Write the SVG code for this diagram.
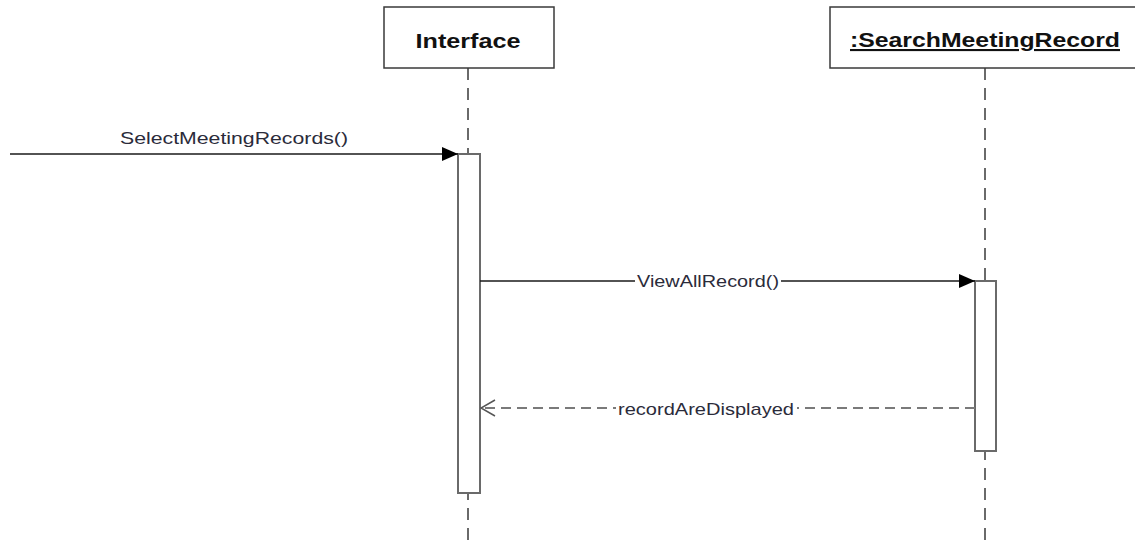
<svg xmlns="http://www.w3.org/2000/svg" width="1135" height="548" viewBox="0 0 1135 548">
  <style>
    .head { fill: #ffffff; stroke: #3a3a3a; stroke-width: 1.5; }
    .headtxt { font-family: "Liberation Sans", Arial, sans-serif; font-weight: bold; font-size: 21px; fill: #111111; }
    .life { stroke: #6a6a6a; stroke-width: 2; stroke-dasharray: 12 8; fill: none; }
    .act { fill: #ffffff; stroke: #6a6a6a; stroke-width: 2; }
    .msg { stroke: #1a1a1a; stroke-width: 1.5; fill: none; }
    .ret { stroke: #7a7a7a; stroke-width: 2; stroke-dasharray: 10 6; fill: none; }
    .lbl { font-family: "Liberation Sans", Arial, sans-serif; font-size: 17px; fill: #2b2b3a; }
    .bg { fill: #ffffff; }
  </style>
  <defs>
    <marker id="filled" viewBox="0 0 16 14" refX="16" refY="7" markerWidth="16" markerHeight="14" markerUnits="userSpaceOnUse" orient="auto">
      <path d="M0,0 L16,7 L0,14 Z" fill="#000000"/>
    </marker>
    <!-- open arrowhead: tip at the far end of the path direction -->
    <marker id="open" viewBox="0 0 16 18" refX="15" refY="9" markerWidth="16" markerHeight="18" markerUnits="userSpaceOnUse" orient="auto">
      <path d="M1,1 L15,9 L1,17" fill="none" stroke="#555555" stroke-width="1.5"/>
    </marker>
  </defs>

  <rect width="1135" height="548" fill="#ffffff"/>

  <!-- lifelines -->
  <g id="lifelines">
    <line class="life" x1="468" y1="68" x2="468" y2="548"/>
    <line class="life" x1="985" y1="68" x2="985" y2="548"/>
  </g>

  <g id="interface">
    <rect class="head" x="384" y="7" width="170" height="61"/>
    <text class="headtxt" x="468" y="48" text-anchor="middle" textLength="105" lengthAdjust="spacingAndGlyphs">Interface</text>
    <rect class="act" x="458" y="154" width="22" height="339"/>
  </g>

  <g id="searchMeetingRecord">
    <rect class="head" x="830" y="7" width="310" height="61"/>
    <text class="headtxt" x="985" y="47" text-anchor="middle" textLength="270" lengthAdjust="spacingAndGlyphs" text-decoration="underline">:SearchMeetingRecord</text>
    <rect class="act" x="975" y="281" width="21" height="170"/>
  </g>

  <!-- messages -->
  <g id="connectors">
    <line class="msg" x1="10" y1="154" x2="458" y2="154" marker-end="url(#filled)"/>
    <text class="lbl" x="234" y="144" text-anchor="middle" textLength="228" lengthAdjust="spacingAndGlyphs">SelectMeetingRecords()</text>

    <line class="msg" x1="480" y1="281" x2="975" y2="281" marker-end="url(#filled)"/>
    <rect class="bg" x="635" y="270" width="146" height="22"/>
    <text class="lbl" x="708" y="287" text-anchor="middle" textLength="142" lengthAdjust="spacingAndGlyphs">ViewAllRecord()</text>

    <line class="ret" x1="975" y1="408" x2="481" y2="408" marker-end="url(#open)"/>
    <rect class="bg" x="616" y="397" width="181" height="22"/>
    <text class="lbl" x="706" y="415" text-anchor="middle" textLength="176" lengthAdjust="spacingAndGlyphs">recordAreDisplayed</text>
  </g>
</svg>
